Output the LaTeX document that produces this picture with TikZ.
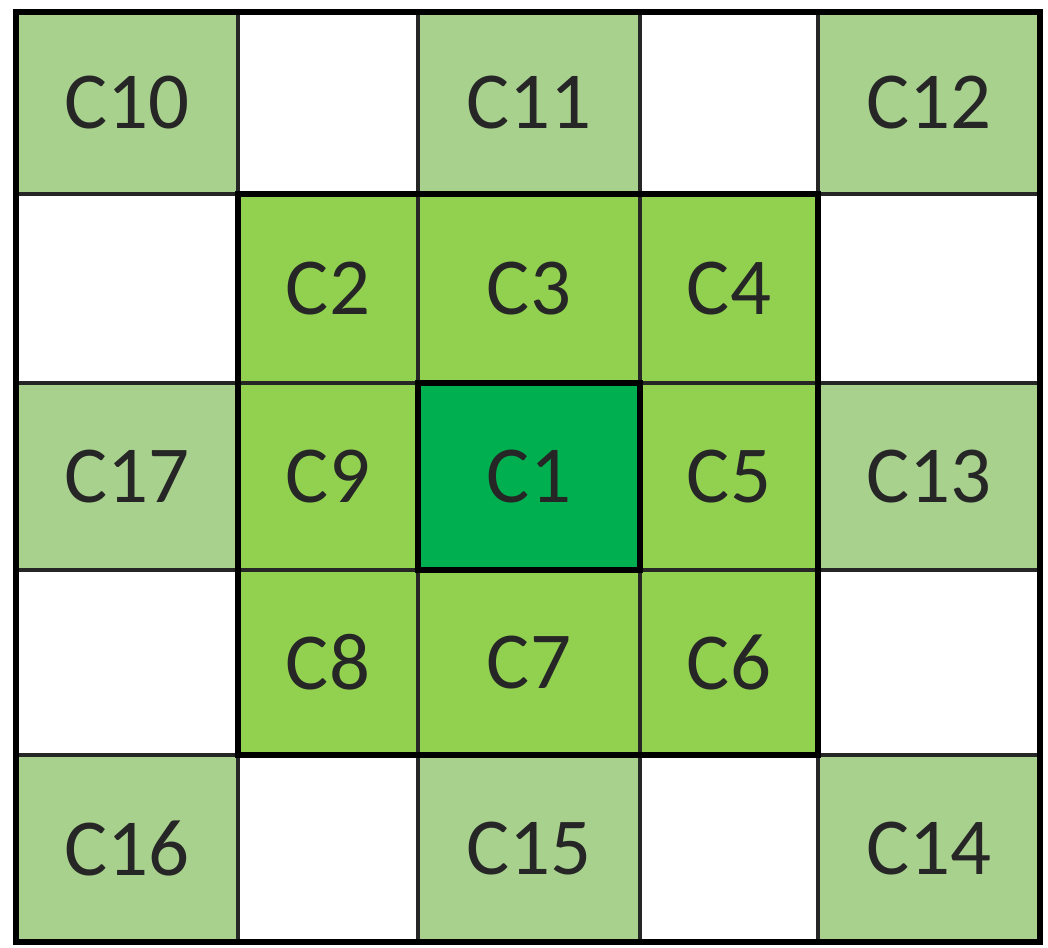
\documentclass[tikz,border=0pt]{standalone}
\usepackage{fontspec}
\setmainfont{Carlito}
\usepackage{xcolor}
\definecolor{outergreen}{HTML}{A9D18E}
\definecolor{innergreen}{HTML}{92D050}
\definecolor{centergreen}{HTML}{00B050}

\begin{document}
\begin{tikzpicture}[
		x=0.01cm, y=-0.01cm,
		cell/.style = {draw=black!85, line width=0.9pt, inner sep=0pt, outer sep=0pt, font=\fontsize{23}{26}\selectfont, text=black!85},
		ring/.style = {cell, fill=outergreen},
		near/.style = {cell, fill=innergreen},
		thickline/.style = {draw=black, line width=1.7pt},
		]
		
		\useasboundingbox (0, 0) rectangle (1048, 947);
		
		% outer ring
		\node[ring, minimum width=2.22cm, minimum height=1.82cm]	(c10)	at (127, 103)	{C10};
		\node[ring, minimum width=2.22cm, minimum height=1.82cm]	(c11)	at (529, 103)	{C11};
		\node[ring, minimum width=2.22cm, minimum height=1.82cm]	(c12)	at (929, 103)	{C12};
		\node[ring, minimum width=2.22cm, minimum height=1.87cm]	(c17)	at (127, 476.5)	{C17};
		\node[ring, minimum width=2.22cm, minimum height=1.87cm]	(c13)	at (929, 476.5)	{C13};
		\node[ring, minimum width=2.22cm, minimum height=1.87cm]	(c16)	at (127, 848.5)	{C16};
		\node[ring, minimum width=2.22cm, minimum height=1.87cm]	(c15)	at (529, 848.5)	{C15};
		\node[ring, minimum width=2.22cm, minimum height=1.87cm]	(c14)	at (929, 848.5)	{C14};
		
		% neighbours of C1
		\node[near, minimum width=1.80cm, minimum height=1.89cm]	(c2)	at (328, 288.5)	{C2};
		\node[near, minimum width=2.22cm, minimum height=1.89cm]	(c3)	at (529, 288.5)	{C3};
		\node[near, minimum width=1.78cm, minimum height=1.89cm]	(c4)	at (729, 288.5)	{C4};
		\node[near, minimum width=1.80cm, minimum height=1.87cm]	(c9)	at (328, 476.5)	{C9};
		\node[near, minimum width=1.78cm, minimum height=1.87cm]	(c5)	at (729, 476.5)	{C5};
		\node[near, minimum width=1.80cm, minimum height=1.85cm]	(c8)	at (328, 662.5)	{C8};
		\node[near, minimum width=2.22cm, minimum height=1.85cm]	(c7)	at (529, 662.5)	{C7};
		\node[near, minimum width=1.78cm, minimum height=1.85cm]	(c6)	at (729, 662.5)	{C6};
		
		% centre
		\node[cell, fill=centergreen, minimum width=2.22cm, minimum height=1.87cm]	(c1)	at (529, 476.5)	{C1};
		
		\draw[thickline]	(c2.north west)	rectangle	(c6.south east);
		\draw[thickline]	(c1.north west)	rectangle	(c1.south east);
		\draw[thickline]	(c10.north west)	rectangle	(c14.south east);
	\end{tikzpicture}
\end{document}
